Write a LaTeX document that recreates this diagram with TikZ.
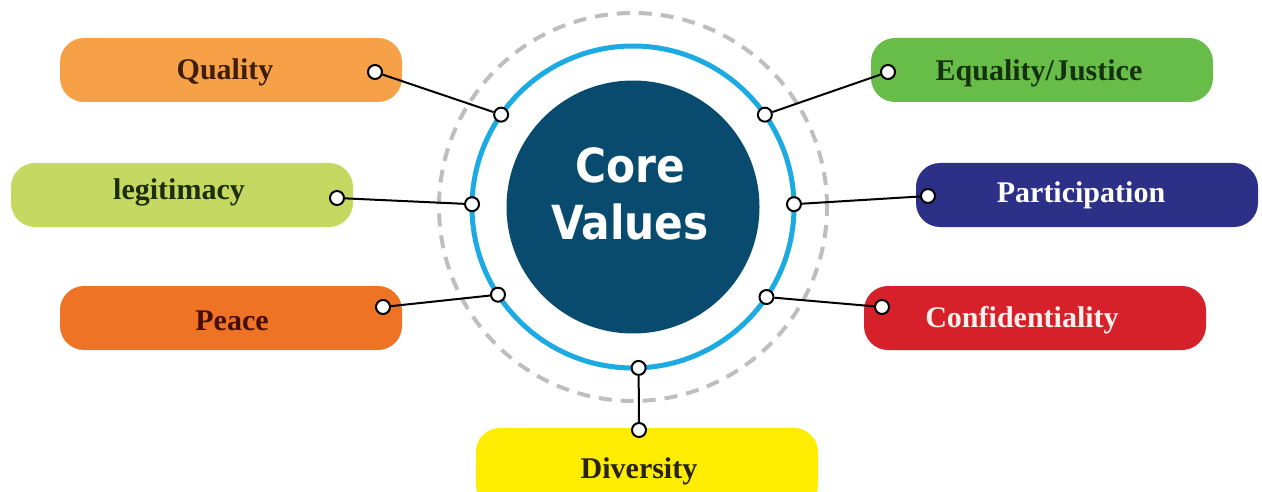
\documentclass[tikz,border=0pt]{standalone}
\usepackage{fontspec}
\setmainfont{Liberation Serif}
\newfontfamily\corefont[FakeStretch=0.9]{DejaVu Sans}

\definecolor{coreblue}{RGB}{9,75,111}
\definecolor{ringblue}{RGB}{27,170,226}
\definecolor{ringgray}{RGB}{190,190,190}
\definecolor{qualityc}{RGB}{246,160,72}
\definecolor{legitc}{RGB}{197,216,98}
\definecolor{peacec}{RGB}{239,115,36}
\definecolor{diversc}{RGB}{255,237,0}
\definecolor{equalc}{RGB}{104,188,72}
\definecolor{particc}{RGB}{44,48,135}
\definecolor{confidc}{RGB}{214,32,42}

\begin{document}
\begin{tikzpicture}[x=1pt,y=1pt,
	valuebox/.style={rounded corners=24pt,minimum width=342pt,minimum height=64pt,inner sep=0pt},
	valuetext/.style={anchor=base,inner sep=0pt,font=\fontsize{30}{36}\selectfont\bfseries},
	dot/.style={circle,draw=black,fill=white,line width=2pt,minimum size=14pt,inner sep=0pt},
	link/.style={line width=2pt}]

\useasboundingbox (0,0) rectangle (1262,491);

% The rings round the core
\draw[ringgray,line width=4pt,dash pattern=on 13pt off 9pt] (633,284) circle (194pt);
\draw[ringblue,line width=5pt] (633,284) circle (161pt);
\node[circle,fill=coreblue,minimum size=253pt,inner sep=0pt] (core) at (633,284) {};
\node[text=white,align=center,inner sep=0pt,
	font=\corefont\bfseries\fontsize{47}{57}\selectfont] (coretext) at (630,297) {Core\\Values};

% The boxes
\node[valuebox,fill=qualityc] (quality) at (231,421) {};
\node[valuebox,fill=legitc] (legit) at (182,296) {};
\node[valuebox,fill=peacec] (peace) at (231,173) {};
\node[valuebox,fill=diversc,minimum height=80pt] (diversity) at (647,23) {};
\node[valuebox,fill=equalc] (equality) at (1042,421) {};
\node[valuebox,fill=particc] (particip) at (1087,296) {};
\node[valuebox,fill=confidc] (confid) at (1035,173) {};

% The labels
\node[valuetext,text={rgb,255:red,62;green,30;blue,8}] (quality-txt) at (225,411) {Quality};
\node[valuetext,text={rgb,255:red,30;green,45;blue,10}] (legit-txt) at (179,291) {legitimacy};
\node[valuetext,text={rgb,255:red,70;green,15;blue,5}] (peace-txt) at (232,161) {Peace};
\node[valuetext,text={rgb,255:red,40;green,35;blue,5}] (diversity-txt) at (639,13) {Diversity};
\node[valuetext,text={rgb,255:red,20;green,50;blue,15}] (equality-txt) at (1039,410) {Equality/Justice};
\node[valuetext,text=white] (particip-txt) at (1081,288) {Participation};
\node[valuetext,text={rgb,255:red,255;green,240;blue,235}] (confid-txt) at (1022,164) {Confidentiality};

% The links from the ring to the boxes
\foreach \nm/\ang/\ox/\oy in {quality/145/375/419, legit/179/337/293, peace/213/383/184,
	diversity/272/639/61, equality/35/888/419, particip/1/928/295, confid/326/882/184}
{
	\path (core.center) ++(\ang:161pt) node[dot] (\nm-in) {};
	\node[dot] (\nm-out) at (\ox,\oy) {};
	\draw[link] (\nm-in) -- (\nm-out);
}

\end{tikzpicture}
\end{document}
